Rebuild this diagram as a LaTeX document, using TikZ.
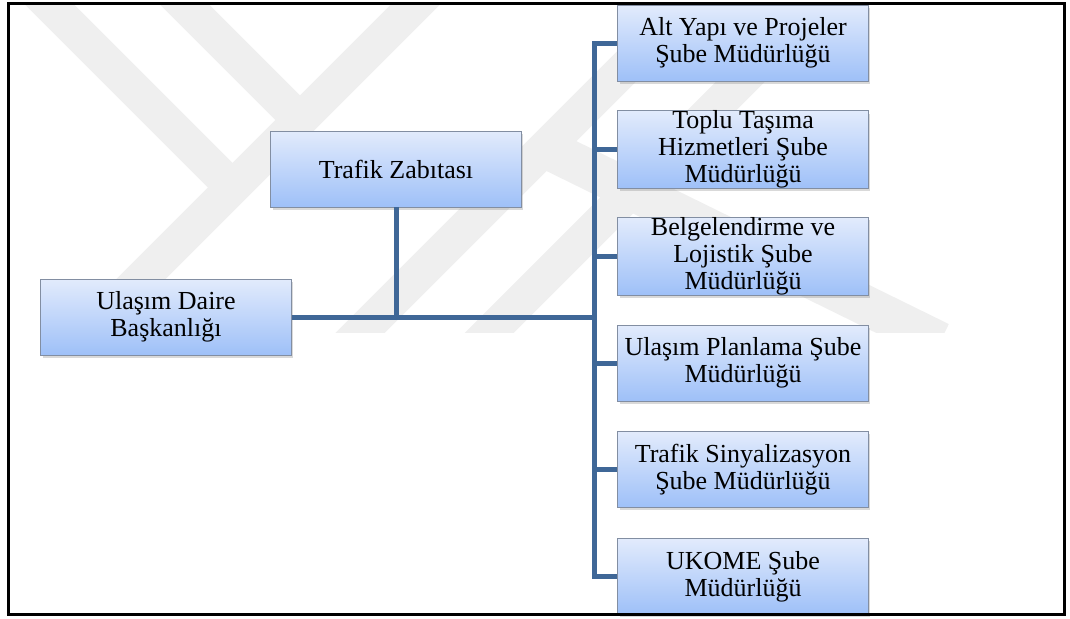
\documentclass[tikz,border=0pt]{standalone}
\usepackage{fontspec}
\setmainfont{Liberation Serif}
\usetikzlibrary{positioning, shadows}
\usepackage{xcolor}

\definecolor{kutuust}{RGB}{226,235,252}
\definecolor{kutualt}{RGB}{158,192,248}
\definecolor{kutucizgi}{RGB}{130,142,162}
\definecolor{hatrenk}{RGB}{63,103,151}
\definecolor{filigranrenk}{RGB}{239,239,239}

\tikzset{
  birim/.style={rectangle, draw=kutucizgi, line width=0.6pt,
    top color=kutuust, bottom color=kutualt,
    minimum width=188pt, minimum height=57pt, inner sep=0pt, align=center,
    font=\fontsize{19.5}{20.25}\selectfont,
    drop shadow={opacity=0.3, shadow xshift=1.5pt, shadow yshift=-2pt}},
  hat/.style={draw=hatrenk, line width=3.75pt},
  filigran/.style={draw=filigranrenk, line width=26pt}
}

\begin{document}
\begin{tikzpicture}[x=0.75pt, y=-0.75pt, node distance=80pt, on grid]
    \useasboundingbox (0,0) rectangle (1070,618);

    % filigran
    \begin{scope}
        \clip (8,3) rectangle (1064,332);
        \draw[filigran] (440,-20) -- (60,360);
        \draw[filigran] (25,-20) -- (232,187);
        \draw[filigran] (160,-20) -- (300,120);
        \draw[filigran] (713,-20) -- (333,360);
        \draw[filigran] (842,-20) -- (462,360);
        \draw[filigran, line width=30pt] (545,148) -- (940,342);
    \end{scope}

    \node[birim] (ulasim) at (166,317) {Ulaşım Daire\\Başkanlığı};
    \node[birim] (zabita) at (396,169) {Trafik Zabıtası};

    \node[birim] (altyapi) at (743,43) {Alt Yapı ve Projeler\\Şube Müdürlüğü};
    \node[birim] (toplu) [below=of altyapi] {Toplu Taşıma\\Hizmetleri Şube\\Müdürlüğü};
    \node[birim] (belge) [below=of toplu] {Belgelendirme ve\\Lojistik Şube\\Müdürlüğü};
    \node[birim] (planlama) [below=of belge] {Ulaşım Planlama Şube\\Müdürlüğü};
    \node[birim] (sinyal) [below=of planlama] {Trafik Sinyalizasyon\\Şube Müdürlüğü};
    \node[birim] (ukome) [below=of sinyal] {UKOME Şube\\Müdürlüğü};

    \coordinate (bus) at (594,0);
    \draw[hat] (ulasim.east) -- (ulasim.east -| bus);
    \draw[hat] (zabita.south) -- (zabita.south |- ulasim.east);
    \draw[hat, line cap=rect] (altyapi.west -| bus) -- (ukome.west -| bus);
    \foreach \kutu in {altyapi, toplu, belge, planlama, sinyal, ukome}
        \draw[hat] (\kutu.west -| bus) -- (\kutu.west);

    \draw[line width=2.25pt] (8,3) rectangle (1064,614);
\end{tikzpicture}
\end{document}
